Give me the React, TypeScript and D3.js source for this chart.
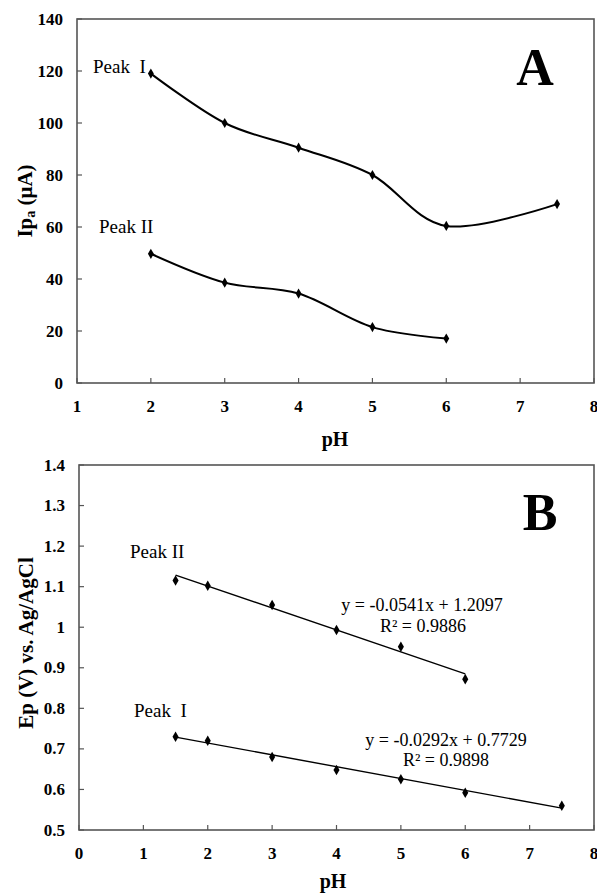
import React, { useRef, useEffect } from 'react'
import * as d3 from 'd3'

// panel A: anodic peak current vs pH
const phPeakOneA = [2, 3, 4, 5, 6, 7.5]
const currentPeakOne = [119, 100, 90.5, 80, 60.4, 68.8]
const phPeakTwoA = [2, 3, 4, 5, 6]
const currentPeakTwo = [49.7, 38.6, 34.4, 21.5, 17.1]

// panel B: peak potential vs pH
const phPeakOneB = [1.5, 2, 3, 4, 5, 6, 7.5]
const potentialPeakOne = [0.73, 0.72, 0.68, 0.648, 0.625, 0.592, 0.56]
const phPeakTwoB = [1.5, 2, 3, 4, 5, 6]
const potentialPeakTwo = [1.115, 1.102, 1.055, 0.993, 0.952, 0.872]

const fitPeakOne = { slope: -0.0292, intercept: 0.7729, r2: '0.9898' }
const fitPeakTwo = { slope: -0.0541, intercept: 1.2097, r2: '0.9886' }

const xTicksA = [1, 2, 3, 4, 5, 6, 7, 8]
const yTicksA = [0, 20, 40, 60, 80, 100, 120, 140]
const xTicksB = [0, 1, 2, 3, 4, 5, 6, 7, 8]
const yTicksB = [0.5, 0.6, 0.7, 0.8, 0.9, 1, 1.1, 1.2, 1.3, 1.4]

const FONT = '"Liberation Serif", "DejaVu Serif", Times, serif'

const drawFrame = (svg, x, y, xTicks, yTicks) => {
    const [x0, x1] = x.range()
    const [y0, y1] = y.range()
    const g = svg.append('g')

    // ticks point inward
    g.selectAll('.xt').data(xTicks).enter().append('line')
        .attr('x1', d => x(d)).attr('x2', d => x(d))
        .attr('y1', y0).attr('y2', y0 - 5)
        .attr('stroke', '#555').attr('stroke-width', 1.2)
    g.selectAll('.yt').data(yTicks).enter().append('line')
        .attr('x1', x0).attr('x2', x0 + 5)
        .attr('y1', d => y(d)).attr('y2', d => y(d))
        .attr('stroke', '#555').attr('stroke-width', 1.2)

    g.append('rect')
        .attr('x', x0).attr('y', y1)
        .attr('width', x1 - x0).attr('height', y0 - y1)
        .attr('fill', 'none').attr('stroke', '#555').attr('stroke-width', 1.6)

    g.selectAll('.xl').data(xTicks).enter().append('text')
        .attr('x', d => x(d)).attr('y', y0 + 29)
        .attr('text-anchor', 'middle')
        .style('font-family', FONT).style('font-weight', 'bold').style('font-size', '17px')
        .text(d => String(d))
    g.selectAll('.yl').data(yTicks).enter().append('text')
        .attr('x', x0 - 14).attr('y', d => y(d) + 5.5)
        .attr('text-anchor', 'end')
        .style('font-family', FONT).style('font-weight', 'bold').style('font-size', '17px')
        .text(d => String(d))
}

const drawMarkers = (svg, xs, ys, x, y, size) => {
    const diamond = d3.symbol().type(d3.symbolDiamond).size(size)
    svg.append('g').selectAll('path').data(xs).enter().append('path')
        .attr('d', diamond())
        .attr('transform', (d, i) => `translate(${x(d)},${y(ys[i])})`)
        .attr('fill', 'black')
}

const addText = (svg, x, y, text, size, weight = 'normal', anchor = 'start') =>
    svg.append('text')
        .attr('x', x).attr('y', y)
        .attr('text-anchor', anchor)
        .style('font-family', FONT).style('font-size', `${size}px`).style('font-weight', weight)
        .style('white-space', 'pre')
        .text(text)

export default function App() {
    const visEl = useRef(null)
    const width = 597
    const height = 894

    useEffect(() => {
        const root = d3.select(visEl.current)
        root.selectAll('*').remove()
        const svg = root.append('svg')
            .attr('width', width).attr('height', height)
            .style('position', 'absolute').style('left', 0).style('top', 0)
            .style('background', 'white')

        // ---------- A ----------
        const xA = d3.scaleLinear().domain([1, 8]).range([77, 594])
        const yA = d3.scaleLinear().domain([0, 140]).range([383, 19])
        drawFrame(svg, xA, yA, xTicksA, yTicksA)

        const smooth = d3.line()
            .x(d => xA(d[0])).y(d => yA(d[1]))
            .curve(d3.curveCardinal.tension(0))
        svg.append('path')
            .attr('d', smooth(phPeakOneA.map((p, i) => [p, currentPeakOne[i]])))
            .attr('fill', 'none').attr('stroke', 'black').attr('stroke-width', 2)
        svg.append('path')
            .attr('d', smooth(phPeakTwoA.map((p, i) => [p, currentPeakTwo[i]])))
            .attr('fill', 'none').attr('stroke', 'black').attr('stroke-width', 2)
        drawMarkers(svg, phPeakOneA, currentPeakOne, xA, yA, 30)
        drawMarkers(svg, phPeakTwoA, currentPeakTwo, xA, yA, 30)

        addText(svg, 93, 73, 'Peak  I', 19)
        addText(svg, 99, 233, 'Peak II', 19)
        addText(svg, 535, 85, 'A', 52, 'bold', 'middle')

        addText(svg, 335, 446, 'pH', 20, 'bold', 'middle')
        const ipa = svg.append('text')
            .attr('transform', 'translate(32,201) rotate(-90)')
            .attr('text-anchor', 'middle')
            .style('font-family', FONT).style('font-weight', 'bold').style('font-size', '21px')
        ipa.append('tspan').text('Ip')
        ipa.append('tspan').style('font-size', '14px').attr('dy', 3).text('a')
        ipa.append('tspan').attr('dy', -3).text(' (μA)')

        // ---------- B ----------
        const xB = d3.scaleLinear().domain([0, 8]).range([79, 594])
        const yB = d3.scaleLinear().domain([0.5, 1.4]).range([830, 465])
        drawFrame(svg, xB, yB, xTicksB, yTicksB)

        const straight = d3.line().x(d => xB(d[0])).y(d => yB(d[1]))
        const fits = [
            [fitPeakTwo, phPeakTwoB],
            [fitPeakOne, phPeakOneB],
        ]
        fits.forEach(([fit, xs]) => {
            const ext = d3.extent(xs)
            svg.append('path')
                .attr('d', straight(ext.map(p => [p, fit.intercept + fit.slope * p])))
                .attr('fill', 'none').attr('stroke', 'black').attr('stroke-width', 1.4)
        })
        drawMarkers(svg, phPeakTwoB, potentialPeakTwo, xB, yB, 32)
        drawMarkers(svg, phPeakOneB, potentialPeakOne, xB, yB, 32)

        addText(svg, 130, 558, 'Peak II', 19)
        addText(svg, 134, 717, 'Peak  I', 19)
        addText(svg, 422, 611, `y = ${fitPeakTwo.slope}x + ${fitPeakTwo.intercept}`, 18, 'normal', 'middle')
        addText(svg, 423, 632, `R² = ${fitPeakTwo.r2}`, 18, 'normal', 'middle')
        addText(svg, 446, 746, `y = ${fitPeakOne.slope}x + ${fitPeakOne.intercept}`, 18, 'normal', 'middle')
        addText(svg, 446, 766, `R² = ${fitPeakOne.r2}`, 18, 'normal', 'middle')
        addText(svg, 540, 530, 'B', 52, 'bold', 'middle')

        addText(svg, 333, 888, 'pH', 20, 'bold', 'middle')
        svg.append('text')
            .attr('transform', 'translate(33,643) rotate(-90)')
            .attr('text-anchor', 'middle')
            .style('font-family', FONT).style('font-weight', 'bold').style('font-size', '21px')
            .text('Ep (V) vs. Ag/AgCl')
    })

    return (
        <div>
            <div ref={visEl}></div>
        </div>
    )
}
